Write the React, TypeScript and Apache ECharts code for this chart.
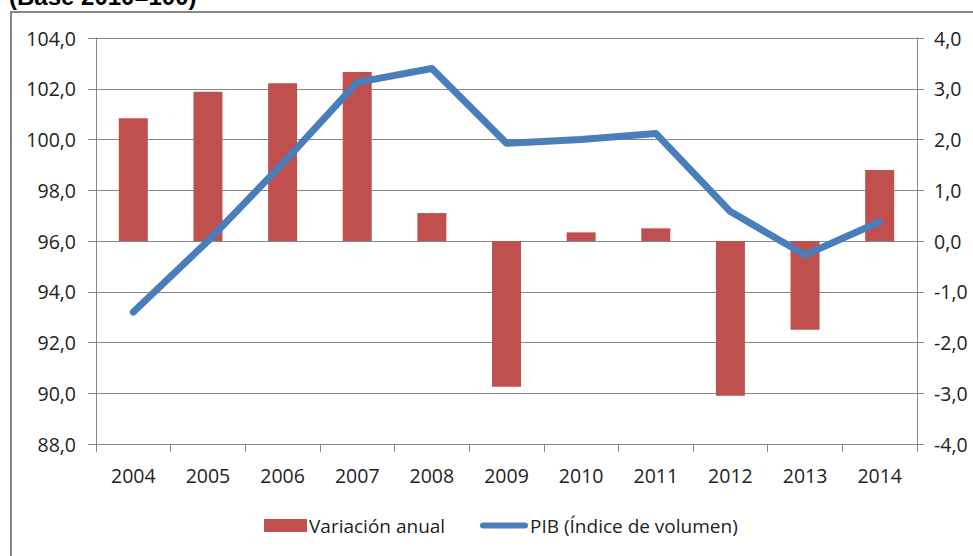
import React, { useEffect, useRef } from "react";
import * as echarts from "echarts";

const years = ["2004", "2005", "2006", "2007", "2008", "2009", "2010", "2011", "2012", "2013", "2014"];
const variacionAnual = [2.42, 2.94, 3.11, 3.33, 0.55, -2.87, 0.17, 0.25, -3.05, -1.75, 1.4];
const pibIndice = [93.2, 96.0, 99.05, 102.25, 102.8, 99.85, 100.0, 100.24, 97.16, 95.45, 96.76];
const titleText = "(Base 2010=100)";
const legendBar = "Variación anual";
const legendLine = "PIB (Índice de volumen)";

const FONT = "'Open Sans', 'Noto Sans', sans-serif";
const fmt = (v: number) => v.toFixed(1).replace(".", ",");

export default function App() {
  const ref = useRef<HTMLDivElement>(null);
  useEffect(() => {
    if (!ref.current) return;
    const chart = echarts.init(ref.current, undefined, { renderer: "svg" });
    const legendText = { fontFamily: FONT, fontSize: 19, color: "#222", padding: [0, 0, 0, -3] };
    chart.setOption({
      animation: false,
      backgroundColor: "#ffffff",
      textStyle: { fontFamily: FONT },
      graphic: [
        {
          type: "rect",
          shape: { x: 11, y: 12, width: 980, height: 560 },
          style: { fill: "none", stroke: "#868686", lineWidth: 2 },
          silent: true,
        },
        {
          type: "text",
          x: 9,
          y: 8,
          style: {
            text: titleText,
            font: "bold 24px 'Liberation Sans', Arial, sans-serif",
            fill: "#000",
            verticalAlign: "bottom",
          },
        },
      ],
      legend: [
        {
          left: 264,
          top: 516,
          padding: 0,
          itemWidth: 43,
          itemHeight: 13,
          textStyle: legendText,
          data: [{ name: legendBar, icon: "rect" }],
        },
        {
          left: 480,
          top: 516,
          padding: 0,
          itemWidth: 48,
          itemHeight: 6,
          textStyle: legendText,
          data: [
            {
              name: legendLine,
              icon: "path://M3,0 L45,0 A3,3 0 0 1 45,6 L3,6 A3,3 0 0 1 3,0 Z",
              itemStyle: { color: "#4a7ebb" },
            },
          ],
        },
      ],
      grid: { left: 96, right: 56, top: 38, height: 406 },
      xAxis: {
        type: "category",
        data: years,
        axisLine: { onZero: false, lineStyle: { color: "#868686", width: 1 } },
        axisTick: { show: true, length: 8, lineStyle: { color: "#868686" } },
        axisLabel: { color: "#222", fontSize: 19.5, fontFamily: FONT, margin: 21 },
      },
      yAxis: [
        {
          type: "value",
          min: 88,
          max: 104,
          interval: 2,
          axisLine: { show: true, lineStyle: { color: "#868686" } },
          axisTick: { show: true, length: 8, lineStyle: { color: "#868686" } },
          splitLine: { lineStyle: { color: "#868686", width: 1 } },
          axisLabel: { color: "#222", fontSize: 19.5, fontFamily: FONT, margin: 20, formatter: fmt },
        },
        {
          type: "value",
          min: -4,
          max: 4,
          interval: 1,
          position: "right",
          axisLine: { show: true, lineStyle: { color: "#868686" } },
          axisTick: { show: true, length: 7, lineStyle: { color: "#868686" } },
          splitLine: { show: false },
          axisLabel: { color: "#222", fontSize: 19.5, fontFamily: FONT, margin: 17, formatter: fmt },
        },
      ],
      series: [
        {
          name: legendBar,
          type: "bar",
          yAxisIndex: 1,
          data: variacionAnual,
          barWidth: 29,
          itemStyle: { color: "#c0504d" },
        },
        {
          name: legendLine,
          type: "line",
          yAxisIndex: 0,
          data: pibIndice,
          symbol: "none",
          lineStyle: { color: "#4a7ebb", width: 7, cap: "round", join: "round" },
          itemStyle: { color: "#4a7ebb" },
        },
      ],
    });
    return () => chart.dispose();
  }, []);
  return (
    <div
      ref={ref}
      style={{ position: "fixed", left: 0, top: 0, width: 973, height: 556 }}
    />
  );
}
